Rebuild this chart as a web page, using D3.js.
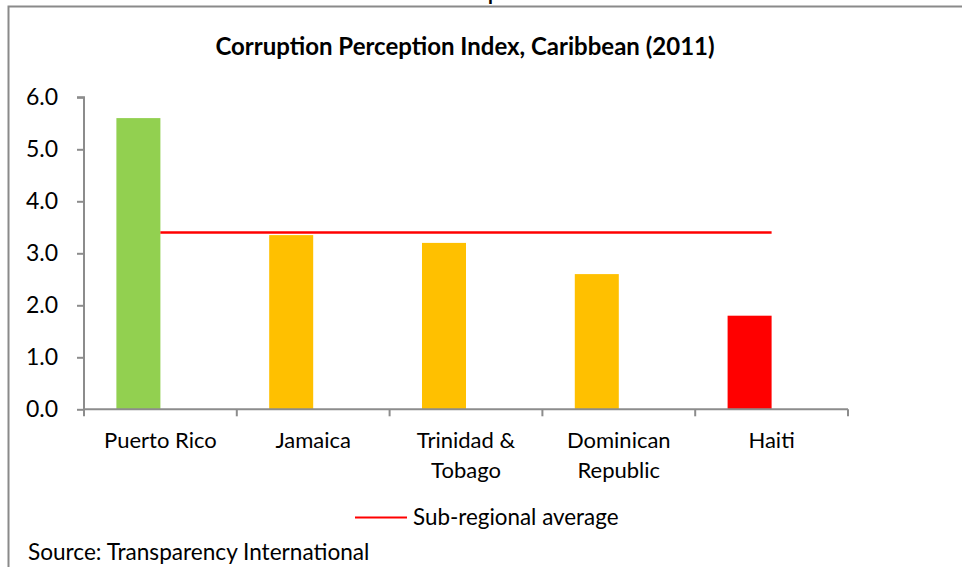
<!DOCTYPE html>
<html>
<head>
<meta charset="utf-8">
<script src="https://cdn.jsdelivr.net/npm/d3@7"></script>
<style>
  html, body { margin: 0; padding: 0; background: #fff; }
  svg { display: block; }
  text { font-family: Lato, "Open Sans", sans-serif; fill: #000; }
</style>
</head>
<body>
<svg id="chart" width="962" height="567"></svg>
<script>
// Corruption Perception Index scores, 2011
const categories = ["Puerto Rico", "Jamaica", "Trinidad & Tobago", "Dominican Republic", "Haiti"];
const categoryLines = [["Puerto Rico"], ["Jamaica"], ["Trinidad &", "Tobago"], ["Dominican", "Republic"], ["Haiti"]];
const scores = [5.6, 3.35, 3.2, 2.6, 1.8];
const barColors = ["#92D050", "#FFC000", "#FFC000", "#FFC000", "#FF0000"];
const subRegionalAverage = 3.4;
const yTicks = [0, 1, 2, 3, 4, 5, 6];

const title = "Corruption Perception Index, Caribbean (2011)";
const legendLabel = "Sub-regional average";
const sourceNote = "Source: Transparency International";

const svg = d3.select("#chart");
const axisColor = "#8c8c8c";

// outer frame (top and left edges visible)
svg.append("path")
  .attr("d", "M8.5,567 L8.5,6.5 L962,6.5")
  .attr("fill", "none")
  .attr("stroke", "#8a8a8a")
  .attr("stroke-width", 2);

// clipped heading fragment above the frame
svg.append("text")
  .attr("x", 488).attr("y", 0)
  .attr("font-weight", "bold").attr("font-size", 20)
  .text("p");

const plot = { left: 84, right: 848, top: 97.3, bottom: 409.3 };

const x = d3.scaleBand()
  .domain(categories)
  .range([plot.left, plot.right])
  .paddingInner(0).paddingOuter(0);

const y = d3.scaleLinear()
  .domain([0, 6])
  .range([plot.bottom, plot.top]);

const barWidth = x.bandwidth() * 0.288;
const center = d => x(d) + x.bandwidth() / 2;

// title
svg.append("text")
  .attr("x", 465).attr("y", 55)
  .attr("text-anchor", "middle")
  .attr("font-weight", "bold")
  .attr("font-size", 24)
  .text(title);

// bars sit just left of each category centre
svg.append("g").selectAll("rect")
  .data(categories)
  .join("rect")
  .attr("x", (d) => center(d) - barWidth)
  .attr("y", (d, i) => y(scores[i]))
  .attr("width", barWidth)
  .attr("height", (d, i) => y(0) - y(scores[i]))
  .attr("fill", (d, i) => barColors[i]);

// sub-regional average line
svg.append("line")
  .attr("x1", center(categories[0]))
  .attr("x2", center(categories[categories.length - 1]))
  .attr("y1", y(subRegionalAverage))
  .attr("y2", y(subRegionalAverage))
  .attr("stroke", "#FF0000")
  .attr("stroke-width", 2.5);

// y axis
const yAxis = svg.append("g")
  .attr("transform", `translate(${plot.left},0)`)
  .call(d3.axisLeft(y).tickValues(yTicks).tickFormat(d3.format(".1f")).tickSize(7).tickPadding(19));
yAxis.select(".domain").attr("stroke", axisColor).attr("stroke-width", 2)
  .attr("d", `M-7,${plot.top}H0V${plot.bottom}`);
yAxis.selectAll(".tick line").attr("stroke", axisColor).attr("stroke-width", 2);
yAxis.selectAll(".tick text")
  .attr("font-family", "Lato, 'Open Sans', sans-serif")
  .attr("font-size", 23).attr("fill", "#000");

// x axis with ticks at category boundaries
const xAxis = svg.append("g")
  .attr("transform", `translate(0,${plot.bottom})`);
xAxis.append("line")
  .attr("x1", plot.left).attr("x2", plot.right)
  .attr("stroke", axisColor).attr("stroke-width", 2);
const boundaries = categories.map(d => x(d)).concat([plot.right]);
xAxis.selectAll("line.tick")
  .data(boundaries)
  .join("line")
  .attr("class", "tick")
  .attr("x1", d => d).attr("x2", d => d)
  .attr("y1", 0).attr("y2", 7)
  .attr("stroke", axisColor).attr("stroke-width", 2);

// category labels
const labels = svg.append("g").selectAll("text")
  .data(categories)
  .join("text")
  .attr("text-anchor", "middle")
  .attr("font-size", 22)
  .attr("x", d => center(d))
  .attr("y", 448);
labels.each(function(d, i) {
  const t = d3.select(this);
  categoryLines[i].forEach((line, j) => {
    t.append("tspan")
      .attr("x", center(d))
      .attr("dy", j === 0 ? 0 : 30)
      .text(line);
  });
});

// legend
svg.append("line")
  .attr("x1", 355).attr("x2", 407)
  .attr("y1", 517.5).attr("y2", 517.5)
  .attr("stroke", "#FF0000").attr("stroke-width", 2);
svg.append("text")
  .attr("x", 413).attr("y", 525)
  .attr("font-size", 22.4)
  .text(legendLabel);

// source note
svg.append("text")
  .attr("x", 28).attr("y", 560)
  .attr("font-size", 22.6)
  .text(sourceNote);
</script>
</body>
</html>
